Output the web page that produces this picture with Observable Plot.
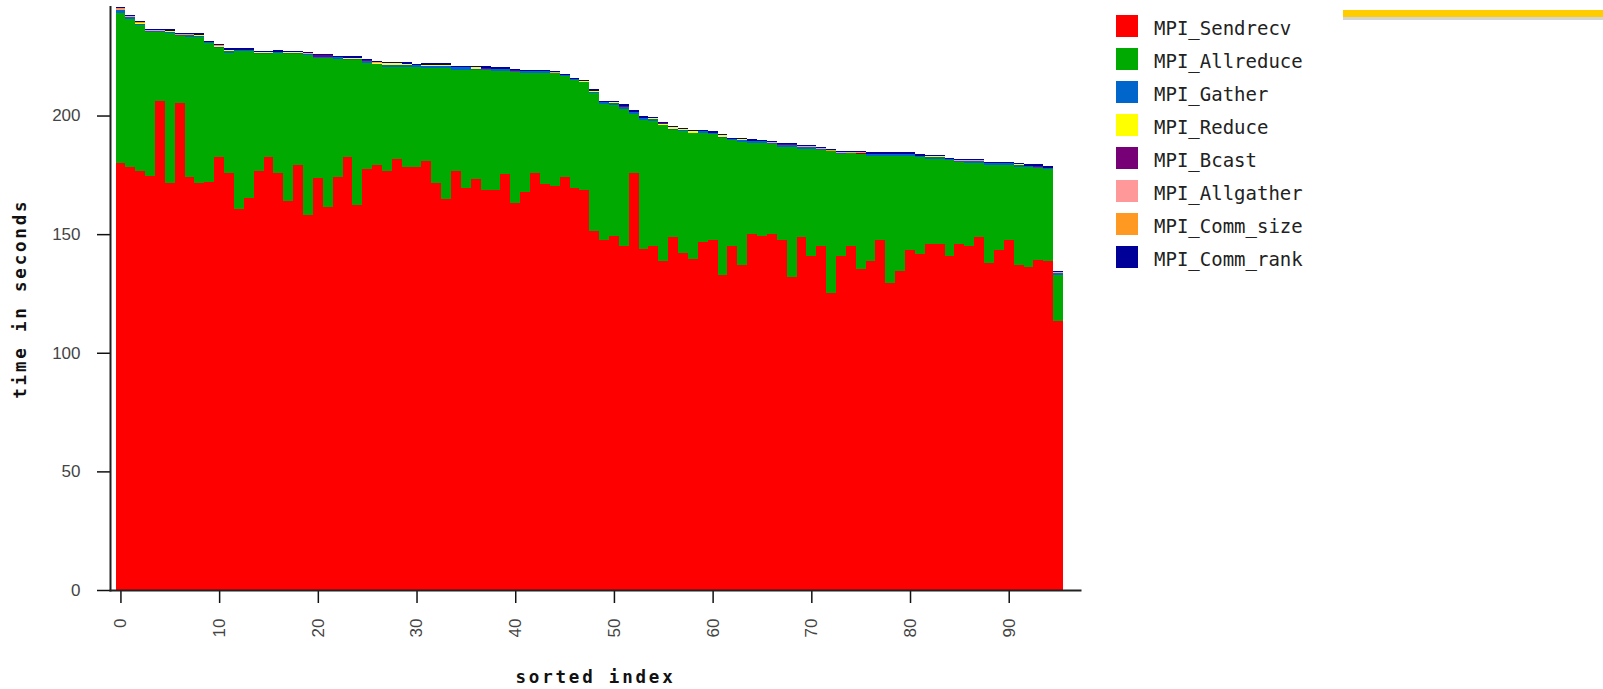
<!DOCTYPE html>
<html>
<head>
<meta charset="utf-8">
<script src="https://cdn.jsdelivr.net/npm/d3@7"></script>
<script src="https://cdn.jsdelivr.net/npm/@observablehq/plot@0.6"></script>
<style>
  html, body { margin: 0; padding: 0; background: #fff; }
  #wrap { position: relative; width: 1603px; height: 689px; overflow: hidden; }
  #legend { position: absolute; left: 1116px; top: 15px; font-family: "DejaVu Sans Mono", monospace; font-size: 19px; color: #222; }
  .row { position: absolute; left: 0; height: 22px; white-space: nowrap; }
  .sw { position: absolute; left: 0; top: 0; width: 22px; height: 22px; }
  .lb { position: absolute; left: 38px; top: 0; line-height: 26px; }
  #stripe { position: absolute; left: 1343px; top: 10px; width: 260px; height: 7px; background: #ffcc00; }
  #shadow { position: absolute; left: 1343px; top: 17px; width: 260px; height: 3px; background: #d4d4d4; }
</style>
</head>
<body>
<div id="wrap">
  <div id="chart"></div>
  <div id="legend"></div>
  <div id="stripe"></div>
  <div id="shadow"></div>
</div>
<script>
const seriesNames = ["MPI_Sendrecv", "MPI_Allreduce", "MPI_Gather", "MPI_Reduce", "MPI_Bcast", "MPI_Allgather", "MPI_Comm_size", "MPI_Comm_rank"];
const seriesColors = ["#ff0000", "#00aa00", "#0066cc", "#ffff00", "#770077", "#ff9999", "#ff9922", "#000099"];

const sendrecv = [
  180.1, 178.4, 176.7, 174.5, 206.2, 171.4, 205.4, 174.2, 171.4, 172.0,
  182.4, 175.9, 160.5, 165.4, 176.7, 182.4, 175.9, 163.8, 179.3, 158.1,
  173.5, 161.3, 174.2, 182.4, 162.1, 177.6, 179.3, 176.7, 181.5, 178.4,
  178.4, 180.7, 171.4, 164.7, 176.7, 169.6, 173.4, 168.6, 168.6, 175.2,
  163.0, 167.8, 175.9, 171.3, 170.3, 174.2, 169.4, 168.6, 151.5, 147.5,
  149.1, 145.0, 175.9, 143.6, 145.0, 138.5, 148.9, 141.9, 139.4, 146.5,
  147.4, 132.6, 145.0, 136.8, 149.9, 149.1, 149.9, 147.4, 131.9, 148.9,
  140.9, 145.0, 125.3, 140.9, 145.0, 135.2, 138.5, 147.4, 129.5, 134.5,
  143.3, 141.8, 145.8, 145.8, 140.9, 145.8, 145.0, 148.9, 137.7, 143.3,
  147.4, 136.8, 136.0, 139.2, 138.5, 113.2
];
const allreduce = [
  63.2, 62.4, 61.3, 60.7, 28.8, 63.2, 28.3, 59.1, 61.6, 58.7,
  46.0, 50.6, 66.5, 61.6, 49.1, 43.4, 50.3, 62.0, 46.5, 67.4,
  50.6, 62.8, 49.6, 41.0, 61.2, 44.4, 42.3, 43.9, 39.1, 42.2,
  42.0, 39.4, 48.7, 55.4, 42.5, 49.4, 45.6, 50.4, 50.0, 43.4,
  55.2, 50.3, 42.2, 46.8, 47.5, 42.5, 45.5, 45.5, 58.0, 57.4,
  55.5, 57.9, 24.7, 54.5, 52.9, 57.4, 45.0, 51.7, 53.1, 46.0,
  44.9, 58.0, 44.7, 52.2, 38.6, 39.4, 38.1, 39.5, 55.0, 37.1,
  45.1, 40.6, 59.6, 42.9, 39.0, 48.4, 44.4, 35.5, 53.4, 48.4,
  39.6, 40.6, 35.7, 35.7, 40.4, 34.6, 35.1, 31.2, 41.6, 36.0,
  31.9, 41.6, 42.4, 38.8, 39.1, 19.6
];
const gather = [
  1.2, 0.8, 0.6, 0.5, 0.7, 0.6, 0.3, 0.7, 0.5, 0.2,
  0.5, 0.6, 0.6, 0.6, 0.4, 0.4, 0.5, 0.4, 0.4, 0.5,
  0.7, 0.7, 0.7, 0.4, 0.5, 1.1, 0.2, 0.9, 0.9, 0.7,
  0.7, 0.7, 0.7, 0.7, 1.1, 1.3, 0.8, 0.5, 1.0, 1.0,
  0.7, 0.5, 0.5, 0.5, 0.2, 0.2, 0.4, 0.2, 0.4, 0.7,
  0.5, 0.7, 0.8, 0.8, 0.5, 0.3, 0.6, 0.5, 0.3, 0.8,
  0.3, 0.5, 0.3, 0.5, 0.8, 0.6, 0.5, 0.8, 0.8, 0.8,
  0.8, 0.4, 0.2, 0.5, 0.3, 0.2, 0.9, 0.9, 0.9, 0.9,
  0.9, 0.5, 0.9, 0.9, 0.2, 0.5, 0.8, 0.8, 0.5, 0.5,
  0.5, 0.6, 0.3, 0.2, 0.2, 0.9
];
const reduce = [
  0.05, 0.05, 0.5, 0.05, 0.05, 0.5, 0.05, 0.05, 0.5, 0.05,
  0.5, 0.5, 0.05, 0.05, 0.5, 0.5, 0.05, 0.5, 0.5, 0.05,
  0.05, 0.05, 0.05, 0.5, 0.5, 0.05, 0.5, 0.5, 0.5, 0.5,
  0.05, 0.5, 0.5, 0.5, 0.05, 0.05, 0.5, 0.05, 0.05, 0.05,
  0.05, 0.05, 0.05, 0.05, 0.05, 0.05, 0.05, 0.05, 0.5, 0.05,
  0.5, 0.05, 0.05, 0.05, 0.5, 0.05, 0.5, 0.05, 0.5, 0.05,
  0.05, 0.5, 0.05, 0.5, 0.05, 0.05, 0.05, 0.05, 0.05, 0.05,
  0.05, 0.05, 0.05, 0.05, 0.05, 0.05, 0.05, 0.05, 0.05, 0.05,
  0.05, 0.05, 0.5, 0.5, 0.05, 0.05, 0.05, 0.05, 0.05, 0.05,
  0.05, 0.5, 0.05, 0.05, 0.05, 0.05
];
const bcast = [
  0.05, 0.05, 0.05, 0.05, 0.05, 0.05, 0.05, 0.05, 0.05, 0.05,
  0.05, 0.05, 0.05, 0.05, 0.05, 0.05, 0.05, 0.05, 0.05, 0.05,
  0.5, 0.5, 0.05, 0.05, 0.05, 0.05, 0.05, 0.05, 0.05, 0.05,
  0.05, 0.05, 0.05, 0.05, 0.05, 0.05, 0.05, 0.5, 0.05, 0.05,
  0.05, 0.05, 0.05, 0.05, 0.05, 0.05, 0.05, 0.05, 0.05, 0.05,
  0.05, 0.5, 0.05, 0.05, 0.05, 0.5, 0.05, 0.05, 0.05, 0.05,
  0.05, 0.05, 0.05, 0.05, 0.05, 0.05, 0.05, 0.05, 0.05, 0.05,
  0.05, 0.05, 0.05, 0.05, 0.05, 0.5, 0.05, 0.05, 0.05, 0.05,
  0.05, 0.05, 0.05, 0.05, 0.05, 0.05, 0.05, 0.05, 0.05, 0.05,
  0.05, 0.05, 0.05, 0.5, 0.05, 0.05
];
const allgather = [0.5].concat(new Array(95).fill(0.05));
const commSize = new Array(96).fill(0.02);
const commRank = new Array(96).fill(0.55);

const xTicks = [0, 10, 20, 30, 40, 50, 60, 70, 80, 90];
const yTicks = [0, 50, 100, 150, 200];

const seriesValues = [sendrecv, allreduce, gather, reduce, bcast, allgather, commSize, commRank];
const idx = d3.range(sendrecv.length);
const rows = [];
seriesNames.forEach((name, s) => {
  seriesValues[s].forEach((v, i) => rows.push({i, series: name, value: v}));
});

const tickFont = {fontFamily: "'Liberation Sans', Arial, sans-serif", fontSize: 17};
const titleFont = {fontWeight: "bold", fontSize: 17.5, fontFamily: "'DejaVu Sans Mono', monospace", fill: "#111"};
const chart = Plot.plot({
  width: 1603,
  height: 689,
  marginLeft: 110,
  marginRight: 523,
  marginTop: 6.4,
  marginBottom: 99,
  style: {background: "transparent", color: "#000"},
  x: {type: "band", domain: idx, range: [115.5, 1063], padding: 0, axis: null},
  y: {domain: [0, 246], axis: null},
  color: {domain: seriesNames, range: seriesColors},
  marks: [
    Plot.barY(rows, {x: "i", y: "value", fill: "series", inset: 0, shapeRendering: "crispEdges"}),
    Plot.axisY({ticks: yTicks, tickSize: 13, tickPadding: 17, label: null, stroke: "#111", strokeWidth: 1.5, fill: "#444", ...tickFont}),
    Plot.axisX({ticks: xTicks, tickSize: 13, tickPadding: 15, tickRotate: -90, label: null, stroke: "#111", strokeWidth: 1.5, fill: "#444", ...tickFont}),
    Plot.frame({anchor: "left", stroke: "#222", strokeWidth: 2}),
    Plot.frame({anchor: "bottom", stroke: "#222", strokeWidth: 2}),
    Plot.text(["time in seconds"], {frameAnchor: "left", dx: -90, rotate: -90, textAnchor: "middle", lineAnchor: "middle", ...titleFont}),
    Plot.text(["sorted index"], {frameAnchor: "bottom", dy: 92, textAnchor: "middle", ...titleFont})
  ]
});
document.getElementById("chart").appendChild(chart);
// letter spacing for axis titles
d3.select(chart).selectAll("text").filter(function() { return this.textContent === "time in seconds" || this.textContent === "sorted index"; })
  .style("letter-spacing", "2.8px");

const legend = document.getElementById("legend");
seriesNames.forEach((name, s) => {
  const row = document.createElement("div");
  row.className = "row";
  row.style.top = (s * 33) + "px";
  const sw = document.createElement("div");
  sw.className = "sw";
  sw.style.background = seriesColors[s];
  const lb = document.createElement("div");
  lb.className = "lb";
  lb.textContent = name;
  row.appendChild(sw);
  row.appendChild(lb);
  legend.appendChild(row);
});
</script>
</body>
</html>
